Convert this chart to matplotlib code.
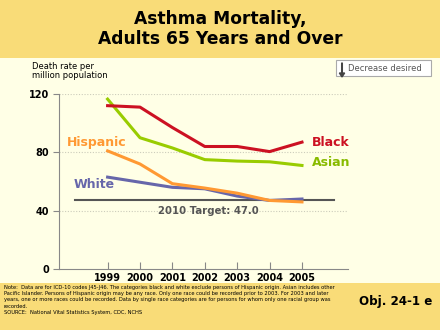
import numpy as np
import matplotlib.pyplot as plt
from matplotlib.patches import Rectangle, FancyArrow

years = [1999, 2000, 2001, 2002, 2003, 2004, 2005]
black = [112, 111, 97, 84, 84, 80.5, 87]
asian = [116.5, 90, 83, 75, 74, 73.5, 71]
hispanic = [81, 72, 58.5, 55.5, 52, 47, 46]
white = [63, 59.5, 56, 55, 50, 47, 48]
target = 47.0
yticks = [0, 40, 80, 120]

fig = plt.figure(figsize=(4.4, 3.3), dpi=100)
fig.patch.set_facecolor('#FFFFE6')

# title and footer bands
fig.patches.append(Rectangle((0, 1 - 58/330), 1, 58/330, transform=fig.transFigure,
                             facecolor='#F9DC78', edgecolor='none', zorder=0))
fig.patches.append(Rectangle((0, 0), 1, 47/330, transform=fig.transFigure,
                             facecolor='#F9DC78', edgecolor='none', zorder=0))
fig.text(0.5, 1 - 29/330, 'Asthma Mortality,\nAdults 65 Years and Over', ha='center', va='center',
         fontsize=12.3, fontweight='bold', family='DejaVu Sans', linespacing=1.2)

ax = fig.add_axes([59/440, 1 - 269/330, (348 - 59)/440, (269 - 94)/330])
ax.set_facecolor('#FFFFE6')
ax.set_xlim(1997.5, 2006.42)
ax.set_ylim(0, 120)
for y in yticks[1:]:
    ax.axhline(y, color='#CCCCBB', lw=0.8, ls=(0, (1, 1.5)), zorder=1)

ax.plot([1998, 2006], [target, target], color='#555555', lw=1.5, zorder=2)
ax.plot(years, white, color='#6666AA', lw=2.2, zorder=3)
ax.plot(years, hispanic, color='#FF9933', lw=2.2, zorder=4)
ax.plot(years, asian, color='#99CC00', lw=2.2, zorder=3)
ax.plot(years, black, color='#CC1122', lw=2.2, zorder=3)

ax.text(2005.3, 87, 'Black', color='#CC1122', fontsize=9, fontweight='bold', va='center')
ax.text(2005.3, 73, 'Asian', color='#88BB00', fontsize=9, fontweight='bold', va='center')
ax.text(1997.75, 86.5, 'Hispanic', color='#FF9933', fontsize=9, fontweight='bold', va='center')
ax.text(1997.95, 58, 'White', color='#6666AA', fontsize=9, fontweight='bold', va='center')
ax.text(2002.1, 39.5, '2010 Target: 47.0', color='#555555', fontsize=7.3, fontweight='bold',
        ha='center', va='center')

for s in ['top', 'right']:
    ax.spines[s].set_visible(False)
for s in ['left', 'bottom']:
    ax.spines[s].set_color('#888888')
ax.set_yticks(yticks)
ax.set_xticks(years)
ax.set_yticklabels([str(v) for v in yticks], fontsize=7, fontweight='bold')
ax.set_xticklabels([str(v) for v in years], fontsize=7, fontweight='bold')
ax.tick_params(axis='both', length=4, color='#888888', pad=3)
ax.tick_params(axis='x', direction='in', length=5)

fig.text(32/440, 1 - 71/330, 'Death rate per\nmillion population', fontsize=6, va='center',
         linespacing=1.0)

# "Decrease desired" box
fig.patches.append(Rectangle((336/440, 1 - 76/330), 95/440, 16/330, transform=fig.transFigure,
                             facecolor='white', edgecolor='#AAAAAA', lw=0.8, zorder=2))
fig.patches.append(FancyArrow(342/440, 1 - 63/330, 0, -10/330, width=0.0015, head_width=0.012,
                              head_length=0.012, transform=fig.transFigure, color='#444444', zorder=3))
fig.text(348/440, 1 - 68.5/330, 'Decrease desired', fontsize=6, color='#555555', va='center', zorder=3)

note = ('Note:  Data are for ICD-10 codes J45-J46. The categories black and white exclude persons of Hispanic origin. Asian includes other\n'
        'Pacific Islander. Persons of Hispanic origin may be any race. Only one race could be recorded prior to 2003. For 2003 and later\n'
        'years, one or more races could be recorded. Data by single race categories are for persons for whom only one racial group was\n'
        'recorded.\n'
        'SOURCE:  National Vital Statistics System, CDC, NCHS')
fig.text(4/440, 1 - 300/330, note, fontsize=3.7, va='center', linespacing=1.3)
fig.text(432/440, 1 - 302/330, 'Obj. 24-1 e', fontsize=8.6, fontweight='bold', ha='right', va='center')

fig.savefig('out.png', dpi=100, facecolor=fig.get_facecolor())
